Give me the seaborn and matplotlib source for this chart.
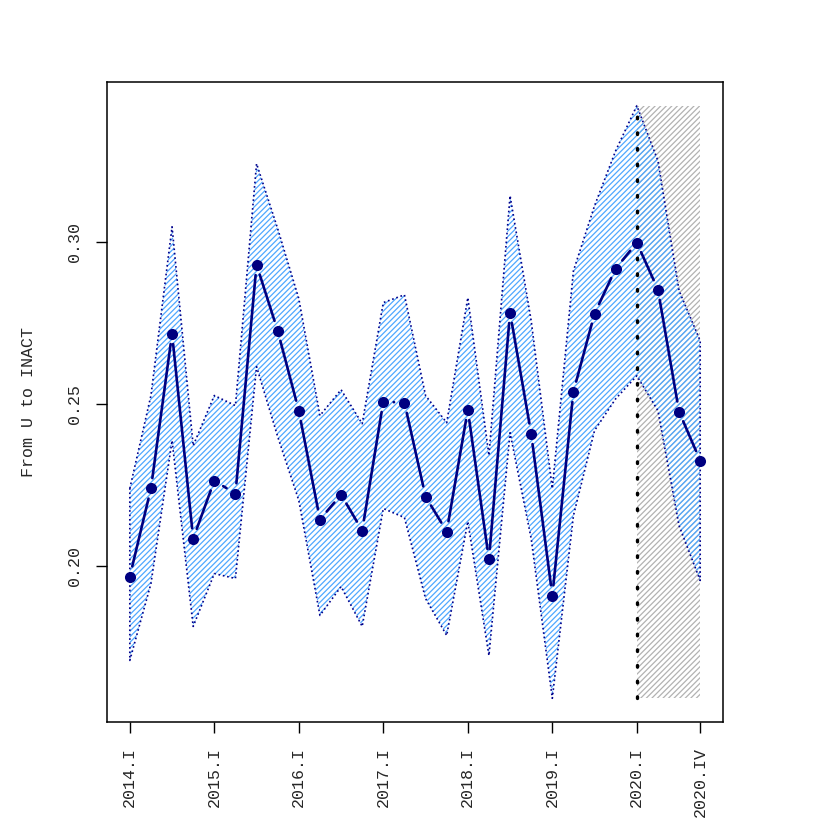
import numpy as np
import pandas as pd
import matplotlib
matplotlib.use("Agg")
import matplotlib.pyplot as plt
import seaborn as sns

# quarters 2014.I .. 2020.IV
years = list(range(2014, 2021))
romans = ["I", "II", "III", "IV"]
quarters = [f"{y}.{r}" for y in years for r in romans]

# transition rate estimate and its band
rate = [0.1966, 0.2238, 0.2716, 0.2083, 0.2262, 0.2222, 0.2929, 0.2725,
        0.2478, 0.2142, 0.2219, 0.2108, 0.2506, 0.2503, 0.2213, 0.2105,
        0.2481, 0.2019, 0.2781, 0.2407, 0.1907, 0.2537, 0.2778, 0.2917,
        0.2997, 0.2852, 0.2475, 0.2324]
upper = [0.2238, 0.2525, 0.3046, 0.2370, 0.2525, 0.2494, 0.3241, 0.3040,
         0.2824, 0.2463, 0.2543, 0.2438, 0.2812, 0.2836, 0.2525, 0.2441,
         0.2827, 0.2340, 0.3142, 0.2756, 0.2238, 0.2910, 0.3111, 0.3281,
         0.3420, 0.3250, 0.2849, 0.2694]
lower = [0.1707, 0.1944, 0.2386, 0.1812, 0.1975, 0.1960, 0.2614, 0.2398,
         0.2201, 0.1846, 0.1935, 0.1812, 0.2176, 0.2148, 0.1898, 0.1784,
         0.2136, 0.1722, 0.2410, 0.2083, 0.1590, 0.2154, 0.2417, 0.2515,
         0.2586, 0.2478, 0.2123, 0.1954]

tick_labels = ["2014.I", "2015.I", "2016.I", "2017.I", "2018.I", "2019.I",
               "2020.I", "2020.IV"]
y_ticks = [0.20, 0.25, 0.30]
forecast_start = "2020.I"
y_label = "From U to INACT"

df = pd.DataFrame({"quarter": quarters, "rate": rate,
                   "upper": upper, "lower": lower})
df["pos"] = np.arange(len(df))

sns.set_style("white")
plt.rcParams["font.family"] = ["Liberation Mono", "DejaVu Sans Mono"]
plt.rcParams["hatch.linewidth"] = 0.9

fig = plt.figure(figsize=(8.3, 8.3), dpi=100)
ax = fig.add_axes([107 / 830, 1 - 722 / 830, 616 / 830, 640 / 830])

ymin, ymax = df["lower"].min(), df["upper"].max()
fpos = df.loc[df["quarter"] == forecast_start, "pos"].iloc[0]
lpos = df["pos"].iloc[-1]

# forecast region, grey hatch
ax.fill_between([fpos, lpos], [ymin, ymin], [ymax, ymax], facecolor="none",
                edgecolor="#b2b2b2", hatch="/" * 6, linewidth=0, zorder=1)

# band, blue hatch
ax.fill_between(df["pos"], df["lower"], df["upper"], facecolor="none",
                edgecolor="#4fa8ff", hatch="/" * 6, linewidth=0, zorder=2)

# dotted outline of the band
outline = pd.concat([
    df[["pos", "upper"]].rename(columns={"upper": "v"}),
    df[["pos", "lower"]].rename(columns={"lower": "v"}).iloc[::-1],
    df[["pos", "upper"]].rename(columns={"upper": "v"}).iloc[:1],
], ignore_index=True)
sns.lineplot(data=outline, x="pos", y="v", sort=False, estimator=None,
             color="#00008b", linestyle=":", linewidth=1.2, ax=ax, zorder=3)

# forecast start marker
vl = ax.vlines(fpos, ymin, ymax, colors="black", linewidth=2.4,
               linestyles=(0, (0.5, 4.2)), zorder=4)
vl.set_capstyle("round")

# line with gaps around the points (type "b")
for i in range(len(df) - 1):
    ax.annotate("", xy=(df["pos"][i + 1], df["rate"][i + 1]),
                xytext=(df["pos"][i], df["rate"][i]),
                arrowprops=dict(arrowstyle="-", color="#000080", lw=1.9,
                                shrinkA=7.5, shrinkB=7.5),
                zorder=5)

sns.scatterplot(data=df, x="pos", y="rate", color="#000080", s=64,
                linewidth=0, ax=ax, zorder=6)

ax.set_xlim(-0.04 * lpos, lpos * 1.04)
pad = (ymax - ymin) * 0.04
ax.set_ylim(ymin - pad, ymax + pad)

tick_pos = [df.loc[df["quarter"] == t, "pos"].iloc[0] for t in tick_labels]
ax.set_xticks(tick_pos)
ax.set_xticklabels(tick_labels, rotation=90, fontsize=12)
ax.set_yticks(y_ticks)
ax.set_yticklabels([f"{v:.2f}" for v in y_ticks], rotation=90,
                   va="center", fontsize=12)
ax.tick_params(axis="both", length=8, width=1.0, color="black",
               direction="out", bottom=True, left=True)
ax.tick_params(axis="x", pad=10)
ax.tick_params(axis="y", pad=10)

ax.set_xlabel("")
ax.set_ylabel(y_label, fontsize=12, labelpad=22)
for s in ax.spines.values():
    s.set_visible(True)
    s.set_color("black")
    s.set_linewidth(1.1)

fig.savefig("out.png", dpi=100)
